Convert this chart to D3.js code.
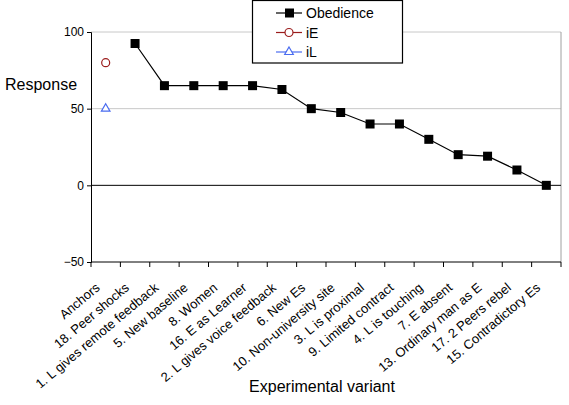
<!DOCTYPE html>
<html><head><meta charset="utf-8">
<script src="https://cdn.jsdelivr.net/npm/d3@7/dist/d3.min.js"></script>
<style>body{margin:0;background:#fff}svg{display:block;font-family:"Liberation Sans",Arial,sans-serif}</style>
</head><body><svg id="c" width="569" height="405"></svg>
<script>
const categories = ["Anchors","18. Peer shocks","1. L gives remote feedback","5. New baseline","8. Women","16. E as Learner","2. L gives voice feedback","6. New Es","10. Non-university site","3. L is proximal","9. Limited contract","4. L is touching","7. E absent","13. Ordinary man as E","17. 2 Peers rebel","15. Contradictory Es"];
const obedience = [null,92.5,65,65,65,65,62.5,50,47.5,40,40,30,20,19,10,0];
const iE = [80,null,null,null,null,null,null,null,null,null,null,null,null,null,null,null];
const iL = [50,null,null,null,null,null,null,null,null,null,null,null,null,null,null,null];
const yTicks = [-50,0,50,100];

const svg = d3.select("#c");
const L=91,R=561,T=32,B=262;
const x = d3.scaleBand().domain(categories).range([L,R]);
const y = d3.scaleLinear().domain([-50,100]).range([B,T]);

// grid
svg.append("g").selectAll("line").data([50,100]).join("line")
 .attr("x1",L).attr("x2",R).attr("y1",d=>y(d)).attr("y2",d=>y(d))
 .attr("stroke","#c8c8c8").attr("stroke-width",1);
svg.append("line").attr("x1",R).attr("x2",R).attr("y1",T).attr("y2",B).attr("stroke","#a0a0a0");
// zero line
svg.append("line").attr("x1",L).attr("x2",R).attr("y1",y(0)).attr("y2",y(0)).attr("stroke","#000");

// y axis
const ya = svg.append("g").attr("transform",`translate(${L},0)`)
 .call(d3.axisLeft(y).tickValues(yTicks).tickSize(4).tickFormat(d3.format("d")));
ya.select(".domain").attr("stroke","#000");
ya.selectAll("text").attr("font-size",12).attr("fill","#000").attr("font-family","Liberation Sans, Arial, sans-serif");

// x axis
const xa = svg.append("g").attr("transform",`translate(0,${B})`);
xa.append("line").attr("x1",L).attr("x2",R).attr("stroke","#000");
const bounds = categories.map((c,i)=>x(c)).concat([R]);
xa.selectAll("line.t").data(bounds).join("line").attr("class","t")
 .attr("x1",d=>d).attr("x2",d=>d).attr("y1",0).attr("y2",5).attr("stroke","#000");
xa.selectAll("text").data(categories).join("text")
 .attr("transform",d=>`translate(${x(d)+x.bandwidth()/2-5},${27}) rotate(-40)`)
 .attr("text-anchor","end").attr("font-size",13).attr("fill","#000").text(d=>d);

// obedience line
const pts = categories.map((c,i)=>({c,v:obedience[i]})).filter(d=>d.v!==null);
svg.append("path").datum(pts)
 .attr("d",d3.line().x(d=>x(d.c)+x.bandwidth()/2).y(d=>y(d.v)))
 .attr("fill","none").attr("stroke","#000").attr("stroke-width",1.2);
svg.append("g").selectAll("rect").data(pts).join("rect")
 .attr("x",d=>x(d.c)+x.bandwidth()/2-4.5).attr("y",d=>y(d.v)-4.5)
 .attr("width",9).attr("height",9).attr("fill","#000");

// iE
const ePts = categories.map((c,i)=>({c,v:iE[i]})).filter(d=>d.v!==null);
svg.append("g").selectAll("circle").data(ePts).join("circle")
 .attr("cx",d=>x(d.c)+x.bandwidth()/2).attr("cy",d=>y(d.v)).attr("r",4)
 .attr("fill","#fff").attr("stroke","#9b1c1c").attr("stroke-width",1.2);
// iL
const lPts = categories.map((c,i)=>({c,v:iL[i]})).filter(d=>d.v!==null);
const tri = d3.symbol().type(d3.symbolTriangle).size(32);
svg.append("g").selectAll("path").data(lPts).join("path")
 .attr("transform",d=>`translate(${x(d.c)+x.bandwidth()/2},${y(d.v)})`)
 .attr("d",tri).attr("fill","#fff").attr("stroke","#4a6cf0").attr("stroke-width",1.2);

// labels
svg.append("text").attr("x",5).attr("y",90).attr("font-size",16).text("Response");
svg.append("text").attr("x",322).attr("y",392).attr("text-anchor","middle").attr("font-size",16).text("Experimental variant");

// legend
const lg = svg.append("g");
lg.append("rect").attr("x",252.5).attr("y",0.5).attr("width",150).attr("height",62.5)
 .attr("fill","#fff").attr("stroke","#000").attr("stroke-width",1.2);
const leg = [{n:"Obedience",c:"#000",m:"sq"},{n:"iE",c:"#9b1c1c",m:"ci"},{n:"iL",c:"#4a6cf0",m:"tr"}];
leg.forEach((d,i)=>{
  const yy = 13+i*19.5;
  lg.append("line").attr("x1",276).attr("x2",302).attr("y1",yy).attr("y2",yy).attr("stroke",d.c).attr("stroke-width",1.2);
  if(d.m==="sq") lg.append("rect").attr("x",285).attr("y",yy-4.5).attr("width",9).attr("height",9).attr("fill","#000");
  if(d.m==="ci") lg.append("circle").attr("cx",289).attr("cy",yy).attr("r",4).attr("fill","#fff").attr("stroke",d.c).attr("stroke-width",1.2);
  if(d.m==="tr") lg.append("path").attr("transform",`translate(289,${yy})`).attr("d",tri).attr("fill","#fff").attr("stroke",d.c).attr("stroke-width",1.2);
  lg.append("text").attr("x",306).attr("y",yy+5).attr("font-size",14).text(d.n);
});
</script></body></html>
